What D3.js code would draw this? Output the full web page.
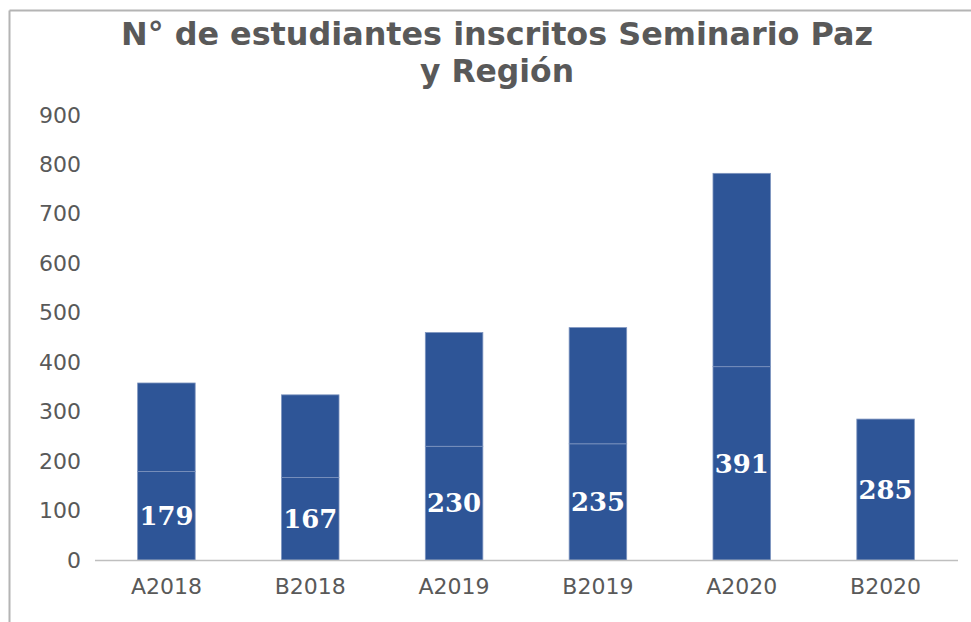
<!DOCTYPE html>
<html>
<head>
<meta charset="utf-8">
<script src="https://cdn.jsdelivr.net/npm/d3@7"></script>
<style>
  body { margin: 0; background: #fff; }
  svg { display: block; }
</style>
</head>
<body>
<div id="chart"></div>
<script>
// data
const periods = ["A2018", "B2018", "A2019", "B2019", "A2020", "B2020"];
const inscritos = [179, 167, 230, 235, 391, 285];
// second stacked series (no bar on top of B2020)
const segundo = [179, 167, 230, 235, 391, 0];
const yTicks = [0, 100, 200, 300, 400, 500, 600, 700, 800, 900];
const titleLines = ["N° de estudiantes inscritos Seminario Paz", "y Región"];

const width = 971, height = 622;
const svg = d3.select("#chart").append("svg")
    .attr("width", width)
    .attr("height", height);

// frame lines (top and left) like the cropped screenshot
svg.append("line").attr("x1", 9.5).attr("x2", width).attr("y1", 10.5).attr("y2", 10.5)
    .attr("stroke", "#b4b4b4").attr("stroke-width", 2);
svg.append("line").attr("x1", 9.5).attr("x2", 9.5).attr("y1", 10.5).attr("y2", height)
    .attr("stroke", "#b4b4b4").attr("stroke-width", 2);

const x = d3.scaleBand()
    .domain(periods)
    .range([94.5, 957.5])
    .paddingInner(0.6)
    .paddingOuter(0.3);

const y = d3.scaleLinear()
    .domain([0, 900])
    .range([560, 115]);

// title
svg.append("g").selectAll("text")
    .data(titleLines)
    .join("text")
    .attr("x", 497)
    .attr("y", (d, i) => 45 + i * 37)
    .attr("text-anchor", "middle")
    .attr("font-family", "DejaVu Sans, Verdana, sans-serif")
    .attr("font-weight", "bold")
    .attr("font-size", 32)
    .attr("fill", "#595959")
    .attr("textLength", (d, i) => i === 0 ? 752 : 154)
    .attr("lengthAdjust", "spacingAndGlyphs")
    .text(d => d);

// y axis labels (no line)
const yAxis = svg.append("g")
    .attr("transform", "translate(81,0)")
    .call(d3.axisLeft(y).tickValues(yTicks).tickSize(0).tickPadding(0));
yAxis.select(".domain").remove();
yAxis.selectAll("text")
    .attr("font-family", "DejaVu Sans, Verdana, sans-serif")
    .attr("font-size", 22)
    .attr("fill", "#595959");

// stacked bars
const rows = periods.map((p, i) => ({ period: p, a: inscritos[i], b: segundo[i] }));
const stacked = d3.stack().keys(["a", "b"])(rows);

svg.append("g").selectAll("g")
    .data(stacked)
    .join("g")
    .selectAll("rect")
    .data(d => d.filter(v => v[1] > v[0]))
    .join("rect")
    .attr("x", d => x(d.data.period))
    .attr("width", x.bandwidth())
    .attr("y", d => y(d[1]))
    .attr("height", d => y(d[0]) - y(d[1]))
    .attr("fill", "#2e5597")
    .attr("stroke", "#7d94bf")
    .attr("stroke-width", 0.8);

// x axis baseline + labels
const xAxis = svg.append("g")
    .attr("transform", `translate(0,${y(0)})`)
    .call(d3.axisBottom(x).tickSize(0).tickPadding(18));
xAxis.select(".domain").attr("stroke", "#bfbfbf").attr("stroke-width", 1.5);
xAxis.selectAll("text")
    .attr("font-family", "DejaVu Sans, Verdana, sans-serif")
    .attr("font-size", 22)
    .attr("fill", "#595959");

// value labels in the lower segment
svg.append("g").selectAll("text")
    .data(rows)
    .join("text")
    .attr("x", d => x(d.period) + x.bandwidth() / 2)
    .attr("y", d => (y(0) + y(d.a)) / 2)
    .attr("dy", "0.36em")
    .attr("text-anchor", "middle")
    .attr("font-family", "DejaVu Serif, Liberation Serif, serif")
    .attr("font-weight", "bold")
    .attr("font-size", 26)
    .attr("fill", "#ffffff")
    .attr("textLength", 54)
    .attr("lengthAdjust", "spacingAndGlyphs")
    .text(d => d.a);
</script>
</body>
</html>
